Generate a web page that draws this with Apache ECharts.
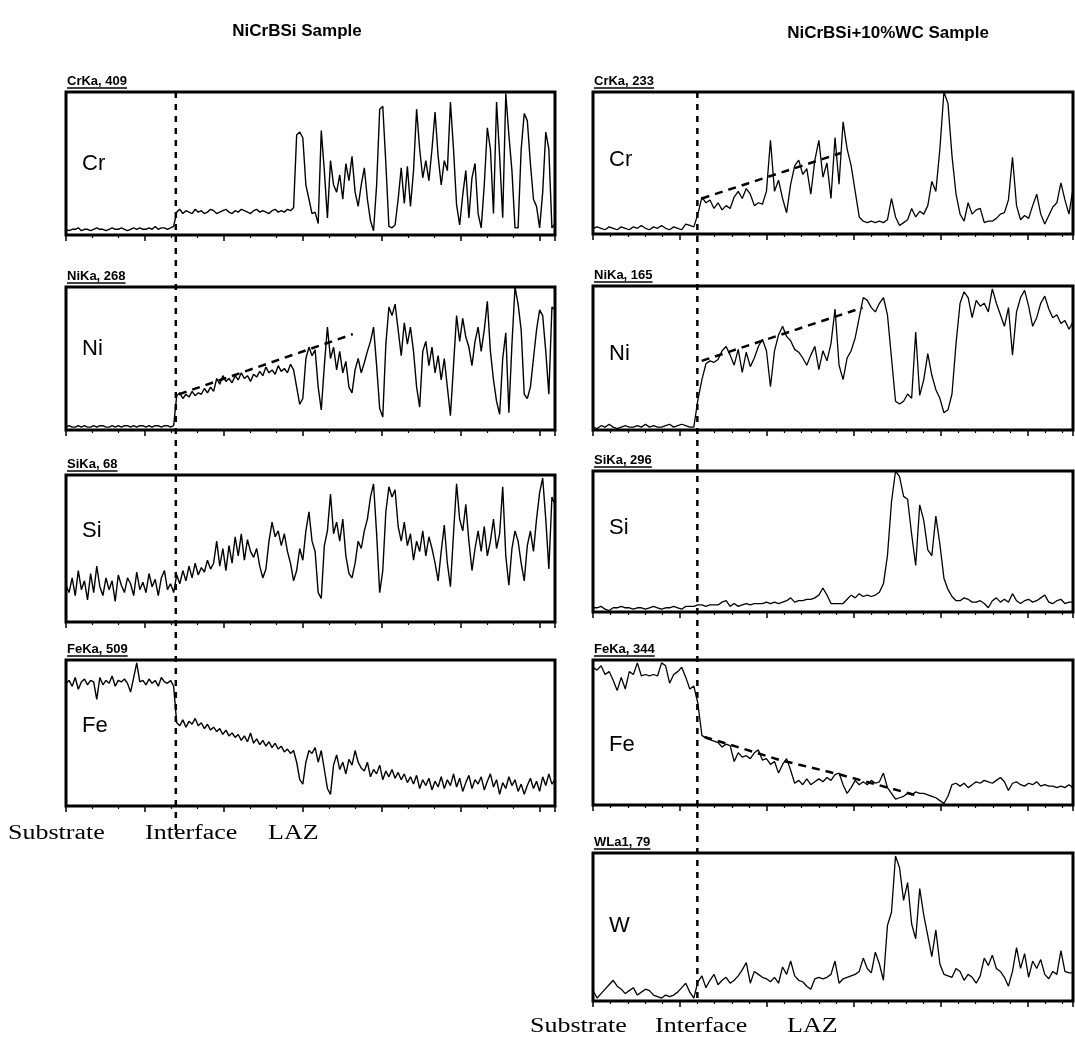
<!DOCTYPE html>
<html>
<head>
<meta charset="utf-8">
<title>NiCrBSi line scans</title>
<script src="https://cdn.jsdelivr.net/npm/echarts@6/dist/echarts.min.js"></script>
<style>
  html, body { margin: 0; background: #fff; }
  #main { width: 1075px; height: 1040px; }
</style>
</head>
<body>
<div id="main"></div>
<script>
// line scan intensities, in % of the full-scale count shown in each panel tag
// left column: NiCrBSi sample (160 steps), right column: NiCrBSi+10%WC (120 steps)
var leftCr = [4,3,4,4,5,3,4,4,3,4, 5,4,4,3,4,5,4,4,5,4, 3,4,5,4,5,4,4,5,4,6, 4,5,5,4,5,6,
  16,18,15,17,16,15,18,16,17,15, 16,18,17,15,16,17,18,16,15,17, 16,18,17,16,15,17,18,16,17,16, 15,17,18,16,17,16,18,17,19,
  70,72,68,35,25,
  15,16,8,73,45,12,52,35,30,42, 25,50,38,55,30,20,35,47,25,10, 3,35,88,90,50,6,5,7,25,47,
  22,48,20,45,88,60,40,52,38,60, 86,55,35,52,45,93,60,21,7,28, 45,12,40,50,15,5,35,75,60,15,
  93,55,12,99,70,45,5,5,60,85, 80,50,25,20,5,30,72,60,5,8];
var leftNi = [2,3,2,2,3,2,3,2,2,3, 2,3,3,2,2,3,2,3,2,3, 3,2,3,2,3,3,2,3,2,3, 3,2,3,3,2,3,
  24,26,22,25,23,27,24,26,25,29, 26,30,27,36,32,38,34,36,33,38, 35,40,36,38,34,39,37,41,38,44,
  40,42,39,45,41,43,40,46,42,30, 18,22,50,58,52,56,30,14,45,72, 50,58,42,55,40,48,30,26,42,50,
  40,47,55,62,72,45,15,9,60,86, 80,88,70,52,75,60,72,55,30,16, 55,62,45,58,40,52,35,50,30,10,
  45,80,62,78,65,58,45,62,72,55, 70,90,55,35,20,11,50,68,12,60, 100,88,70,25,22,30,50,70,84,80,
  55,25,86,84];
var leftSi = [25,20,30,18,35,22,28,15,33,20, 38,24,18,30,22,28,14,32,25,20, 30,26,18,34,22,27,20,33,24,29, 18,30,35,22,26,20,
  32,26,35,28,38,30,40,32,37,34, 42,36,40,55,38,50,35,52,40,58, 45,60,42,56,48,44,50,38,30,36,
  55,68,58,62,52,60,48,40,28,35, 50,42,62,75,55,48,20,16,52,62, 87,60,68,55,70,45,33,30,40,55,
  50,62,70,85,94,60,20,35,75,92, 85,90,65,55,68,52,60,42,55,48, 62,45,58,50,40,28,48,66,40,24,
  60,94,70,62,80,55,35,50,62,48, 65,45,55,70,50,60,92,45,25,50, 62,55,40,28,52,62,48,70,88,98,
  70,36,85,80];
var leftFe = [84,86,82,88,80,85,87,83,86,85, 73,88,83,86,84,89,82,86,85,87, 84,78,88,98,85,86,83,87,84,86, 82,88,85,84,86,82,
  57,55,59,54,58,56,60,55,57,53, 56,52,54,51,53,49,52,48,50,47, 49,45,48,44,50,43,46,42,45,41,
  44,40,43,39,41,37,39,36,38,30, 18,15,30,38,36,40,30,38,25,12, 8,28,35,25,30,22,32,28,38,30,
  26,24,30,20,25,22,28,18,24,20, 25,19,23,18,22,16,20,15,21,12, 18,14,19,11,17,13,20,12,18,14,
  22,13,19,10,16,21,12,18,15,20, 11,17,22,13,18,8,16,12,20,14, 18,10,15,8,14,19,12,17,10,20,
  14,22,15,18];

var rightCr = [4,5,4,3,5,4,3,5,4,3, 5,4,6,4,3,5,4,6,4,3, 5,4,3,7,6,5,
  14,26,22,24,18,22,17,20,18,26, 30,25,32,28,20,22,21,30,66,30, 38,25,15,35,48,52,42,46,28,52,
  66,40,50,25,68,35,79,60,48,30, 12,9,8,9,8,9,8,10,25,12, 6,8,10,18,12,16,14,20,37,30,
  60,100,92,55,28,14,9,22,14,17, 18,8,9,9,11,14,15,24,54,20, 10,13,11,20,28,14,7,13,19,22,
  36,24,14,32];
var rightNi = [2,1,3,2,4,2,1,2,3,2, 2,3,2,4,2,3,2,2,3,4, 2,3,4,3,2,2,
  21,35,46,48,47,49,55,58,52,45, 56,40,54,44,50,58,63,55,30,55, 66,72,65,62,56,54,50,45,52,58,
  42,55,48,60,84,45,35,50,55,64, 78,92,90,85,82,88,92,80,50,20, 18,20,25,22,68,24,35,53,38,28,
  22,12,14,25,60,88,96,92,78,90, 86,88,82,98,88,80,72,85,52,82, 92,97,86,72,78,88,93,84,78,80,
  74,76,70,75];
var rightSi = [3,3,4,2,1,3,3,4,3,3, 2,3,3,2,3,4,3,2,3,3, 4,3,2,4,4,4,
  5,5,4,5,5,5,7,8,4,6, 4,5,6,5,6,6,6,7,6,7, 6,7,8,10,7,8,8,9,9,10,
  12,17,12,6,6,6,6,9,12,10, 13,11,12,11,12,14,20,40,78,100, 96,82,80,55,33,76,65,44,40,68,
  48,24,16,11,8,8,10,9,7,7, 8,6,3,8,10,7,9,7,13,8, 6,8,9,7,8,10,12,7,6,8,
  9,6,7,7];
var rightFe = [95,93,96,90,92,86,79,88,80,92, 90,98,89,90,89,90,89,98,96,84, 90,92,95,88,80,82,
  70,48,46,45,44,43,40,42,41,30, 36,33,34,32,36,38,31,32,28,30, 22,28,32,24,15,17,14,18,14,16,
  18,16,19,17,21,22,14,8,12,17, 14,16,14,17,15,16,22,12,8,4, 5,6,8,7,9,8,8,7,6,5,
  3,1,6,14,15,13,15,12,14,16, 15,17,16,15,17,19,16,10,15,16, 14,13,15,14,16,13,14,13,13,12,
  13,12,14,12];
var rightW = [7,2,5,8,11,14,10,8,5,7, 9,4,6,8,7,4,3,2,4,3, 4,6,9,12,6,2,
  13,17,9,14,18,11,14,16,12,14, 17,21,26,12,20,18,16,15,13,16, 12,23,18,27,17,14,13,10,8,15,
  16,15,16,18,27,12,15,16,17,18, 20,29,22,19,33,25,14,51,60,98, 90,68,80,52,42,76,58,44,30,48,
  25,18,17,16,22,20,14,18,16,12, 17,29,24,31,22,20,16,10,20,36, 22,32,16,27,22,28,18,15,20,18,
  34,20,19,19];

// dashed trend lines [distance, %]
var leftNiTrend = [[1.43, 25], [3.63, 67]];
var rightCrTrend = [[1.25, 25], [2.85, 57]];
var rightNiTrend = [[1.25, 48], [3.10, 85]];
var rightFeTrend = [[1.28, 47], [2.15, 31], [2.84, 21], [3.76, 6]];

var panelTags = ['CrKa, 409', 'NiKa, 268', 'SiKa, 68', 'FeKa, 509',
                 'CrKa, 233', 'NiKa, 165', 'SiKa, 296', 'FeKa, 344', 'WLa1, 79'];
var elementNames = ['Cr', 'Ni', 'Si', 'Fe', 'Cr', 'Ni', 'Si', 'Fe', 'W'];
var zoneLabels = ['Substrate', 'Interface', 'LAZ'];
var sampleTitles = ['NiCrBSi Sample', 'NiCrBSi+10%WC Sample'];

// layout
var colL = { left: 66, width: 489, len: 6.19, split: 3, iface: 1.39, lw: 1.4 };
var colR = { left: 593, width: 480, len: 5.52, split: 5, iface: 1.2, lw: 1.3 };
var panels = [
  { col: colL, top: 92,  h: 143, nameY: 164, data: leftCr },
  { col: colL, top: 287, h: 143, nameY: 349, data: leftNi, trend: leftNiTrend },
  { col: colL, top: 475, h: 147, nameY: 531, data: leftSi },
  { col: colL, top: 660, h: 146, nameY: 726, data: leftFe },
  { col: colR, top: 92,  h: 142, nameY: 160, data: rightCr, trend: rightCrTrend },
  { col: colR, top: 286, h: 144, nameY: 354, data: rightNi, trend: rightNiTrend },
  { col: colR, top: 471, h: 141, nameY: 528, data: rightSi },
  { col: colR, top: 660, h: 145, nameY: 745, data: rightFe, trend: rightFeTrend },
  { col: colR, top: 853, h: 148, nameY: 926, data: rightW }
];

var sans = '"Liberation Sans", Arial, sans-serif';
var serif = '"Liberation Serif", "Times New Roman", serif';

var grids = [], xAxes = [], yAxes = [], series = [];
panels.forEach(function (p, k) {
  grids.push({
    left: p.col.left, top: p.top, width: p.col.width, height: p.h,
    show: true, borderColor: '#000', borderWidth: 3, backgroundColor: 'transparent'
  });
  xAxes.push({
    gridIndex: k, type: 'value', min: 0, max: p.col.len, interval: 1,
    axisLine: { show: false },
    axisTick: { show: true, length: 6, lineStyle: { color: '#000', width: 1.5 } },
    minorTick: { show: true, splitNumber: p.col.split, length: 3, lineStyle: { color: '#000', width: 1.2 } },
    axisLabel: { show: false }, splitLine: { show: false }
  });
  yAxes.push({ gridIndex: k, type: 'value', min: 0, max: 100, show: false });
  var step = p.col.len / (p.data.length - 1);
  series.push({
    type: 'line', xAxisIndex: k, yAxisIndex: k, silent: true,
    showSymbol: false, symbol: 'none',
    lineStyle: { color: '#000', width: p.col.lw },
    data: p.data.map(function (v, i) { return [i * step, v]; })
  });
  if (p.trend) {
    series.push({
      type: 'line', xAxisIndex: k, yAxisIndex: k, silent: true,
      showSymbol: false, symbol: 'none', z: 3,
      lineStyle: { color: '#000', width: 2.5, type: [8, 6] },
      data: p.trend
    });
  }
});

var chart = echarts.init(document.getElementById('main'));
chart.setOption({
  animation: false,
  backgroundColor: '#fff',
  grid: grids, xAxis: xAxes, yAxis: yAxes, series: series
});

// text measuring for the underlined panel tags
var ctx = document.createElement('canvas').getContext('2d');
var tagFont = 'bold 13px ' + sans;
ctx.font = tagFont;

var g = [];
sampleTitles.forEach(function (t, c) {
  g.push({ type: 'text', x: c ? 888 : 297, y: c ? 33 : 31,
    style: { text: t, font: 'bold 17px ' + sans, fill: '#000',
      align: 'center', textAlign: 'center', verticalAlign: 'middle', textVerticalAlign: 'middle' } });
});
panels.forEach(function (p, k) {
  var x0 = p.col.left + 1, yb = p.top - 4;
  g.push({ type: 'text', x: x0, y: yb,
    style: { text: panelTags[k], font: tagFont, fill: '#000',
      align: 'left', textAlign: 'left', verticalAlign: 'bottom', textVerticalAlign: 'bottom' } });
  var w = ctx.measureText(panelTags[k]).width;
  g.push({ type: 'line', shape: { x1: x0, y1: yb, x2: x0 + w, y2: yb },
    style: { stroke: '#000', lineWidth: 1.5 } });
  g.push({ type: 'text', x: p.col.left + 16, y: p.nameY,
    style: { text: elementNames[k], font: '22px ' + sans, fill: '#000',
      align: 'left', textAlign: 'left', verticalAlign: 'middle', textVerticalAlign: 'middle' } });
});

// interface markers across each column
[[0, 92, 836], [4, 92, 1003]].forEach(function (d) {
  var px = chart.convertToPixel({ xAxisIndex: d[0] }, panels[d[0]].col.iface);
  g.push({ type: 'line', z: 10, shape: { x1: px, y1: d[1], x2: px, y2: d[2] },
    style: { stroke: '#000', lineWidth: 2.5, lineDash: [6, 6] } });
});

// zone labels under each column
var zoneX = [[8, 145, 268], [530, 655, 787]];
var zoneY = [834, 1027];
zoneX.forEach(function (xs, c) {
  xs.forEach(function (x, j) {
    g.push({ type: 'text', x: x, y: zoneY[c], scaleX: 1.3,
      style: { text: zoneLabels[j], font: '20px ' + serif, fill: '#000',
        align: 'left', textAlign: 'left', verticalAlign: 'middle', textVerticalAlign: 'middle' } });
  });
});

chart.setOption({ graphic: g });
</script>
</body>
</html>
